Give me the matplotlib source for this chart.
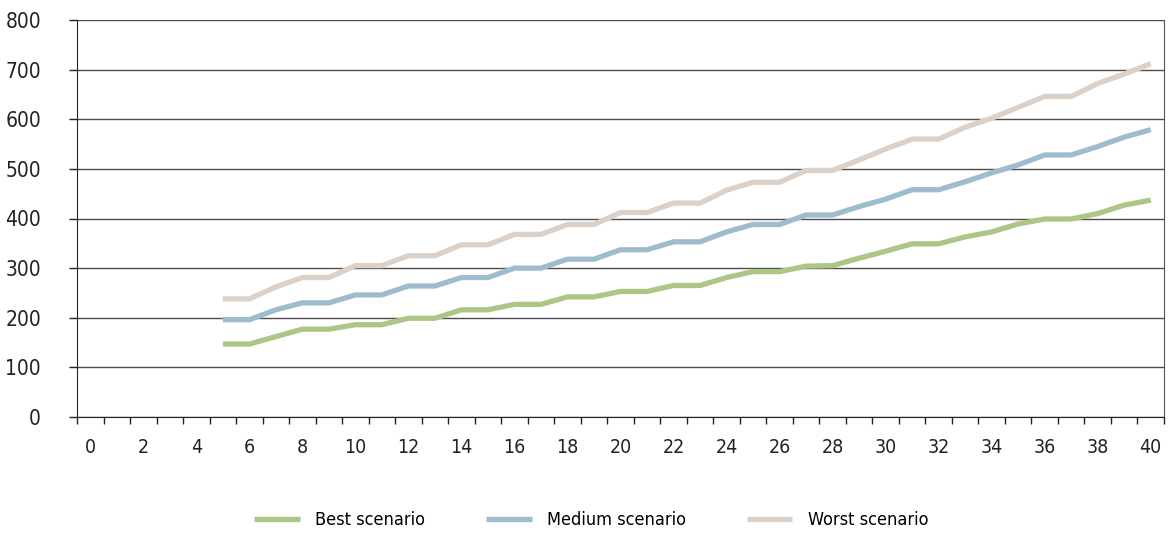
import matplotlib
matplotlib.use('Agg')
import matplotlib.pyplot as plt
import numpy as np

plt.rcParams['font.family'] = ['DejaVu Sans']
plt.rcParams['font.stretch'] = 'condensed'

# 数据
years = list(range(5, 41))
best = [147, 147, 162, 177, 177, 186, 186, 199, 199, 216, 216, 227, 227, 242, 242,
        253, 253, 265, 265, 281, 293, 293, 304, 305, 320, 334, 349, 349, 363, 373,
        389, 399, 399, 410, 427, 437]
medium = [196, 196, 216, 230, 230, 246, 246, 264, 264, 281, 281, 300, 300, 318, 318,
          337, 337, 353, 353, 373, 388, 388, 407, 407, 424, 439, 458, 458, 474, 492,
          508, 528, 528, 545, 564, 579]
worst = [238, 238, 262, 281, 281, 305, 305, 325, 325, 347, 347, 368, 368, 388, 388,
         412, 412, 431, 431, 457, 473, 473, 497, 497, 518, 540, 560, 560, 584, 602,
         624, 646, 646, 672, 691, 712]
labels = ['Best scenario', 'Medium scenario', 'Worst scenario']
colors = ['#adc688', '#9ebdcc', '#dcd1c9']

fig = plt.figure(figsize=(11.71, 5.34), dpi=100)
ax = fig.add_axes([77 / 1171, 1 - 417 / 534, (1164 - 77) / 1171, (417 - 20) / 534])

for vals, lab, c in zip([best, medium, worst], labels, colors):
    ax.plot(years, vals, color=c, lw=3.8, label=lab, solid_joinstyle='round',
            solid_capstyle='butt')

# 坐标轴
ax.set_xlim(-0.5, 40.5)
ax.set_ylim(0, 800)
ax.set_yticks(range(0, 801, 100))
ax.tick_params(axis='y', length=6, width=1, pad=20, labelsize=15, colors='#222222')
ax.set_xticks(np.arange(-0.5, 41, 1))
ax.set_xticklabels([])
ax.set_xticks(range(0, 41, 2), minor=True)
ax.set_xticklabels([str(i) for i in range(0, 41, 2)], minor=True)
ax.tick_params(axis='x', which='major', length=5, width=1, colors='#222222')
ax.tick_params(axis='x', which='minor', length=0, pad=15, labelsize=14, labelcolor='#222222')

ax.grid(True, axis='y', color='#4d4d4d', lw=1.0)
ax.set_axisbelow(True)
ax.spines['top'].set_visible(False)
ax.spines['left'].set_color('#222222')
ax.spines['bottom'].set_color('#222222')
ax.spines['right'].set_color('#555555')

fig.legend(loc='center', bbox_to_anchor=(0.505, 1 - 520 / 534), ncol=3, frameon=False,
           fontsize=13, handlelength=2.5, handletextpad=0.85, columnspacing=3.4)

plt.savefig('out.png', dpi=100, facecolor='white')
